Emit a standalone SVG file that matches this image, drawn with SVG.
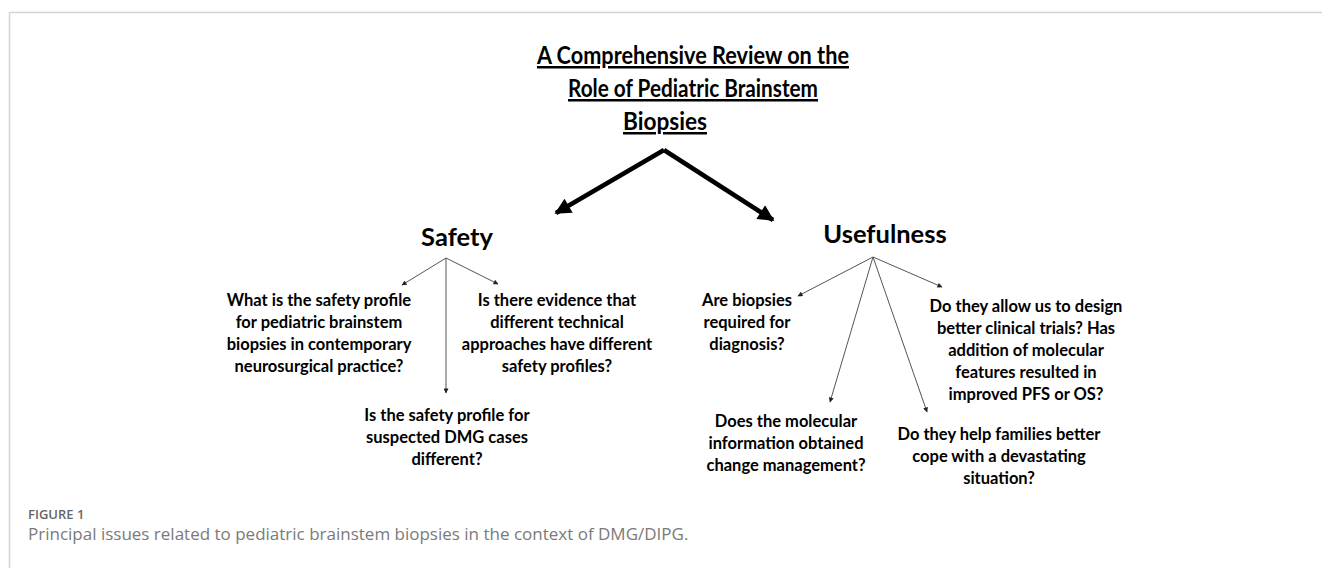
<svg xmlns="http://www.w3.org/2000/svg" width="1322" height="568" viewBox="0 0 1322 568">
  <style>
    .title { font-family: Lato, "Liberation Sans", sans-serif; font-weight: 700; font-size: 25px; fill: #000; text-anchor: middle; text-decoration: underline; }
    .head { font-family: Lato, "Liberation Sans", sans-serif; font-weight: 700; font-size: 25.5px; fill: #000; text-anchor: middle; }
    .q { font-family: Lato, "Liberation Sans", sans-serif; font-weight: 700; font-size: 16.5px; fill: #000; text-anchor: middle; }
    .main { stroke: #000; stroke-width: 4.5; fill: none; }
    .thin { stroke: #555; stroke-width: 1; fill: none; }
    .frame { stroke: #d4d4d4; stroke-width: 1.5; fill: none; }
    .figno { font-family: "Open Sans", "Liberation Sans", sans-serif; font-weight: 600; font-size: 13px; fill: #666; }
    .caption { font-family: "Open Sans", "Liberation Sans", sans-serif; font-size: 17px; fill: #7a7a7a; }
  </style>
  <defs>
    <marker id="bigHead" viewBox="0 0 10 10" refX="9" refY="5" markerWidth="4.4" markerHeight="3.6" orient="auto" markerUnits="strokeWidth">
      <path d="M0,0 L10,5 L0,10 Z" fill="#000"/>
    </marker>
    <marker id="smallHead" viewBox="0 0 10 10" refX="9" refY="5" markerWidth="6" markerHeight="5" orient="auto" markerUnits="strokeWidth">
      <path d="M0,0 L10,5 L0,10 Z" fill="#222"/>
    </marker>
  </defs>

  <!-- figure frame -->
  <path class="frame" d="M9.5,568 L9.5,12.5 L1322,12.5"/>

  <g id="title">
    <text class="title" x="693" y="64" textLength="312" lengthAdjust="spacingAndGlyphs">A Comprehensive Review on the</text>
    <text class="title" x="693" y="97" textLength="250" lengthAdjust="spacingAndGlyphs">Role of Pediatric Brainstem</text>
    <text class="title" x="665" y="130" textLength="84" lengthAdjust="spacingAndGlyphs">Biopsies</text>
  </g>

  <g id="safety">
    <text class="head" x="457" y="246">Safety</text>
  </g>
  <g id="usefulness">
    <text class="head" x="885" y="243">Usefulness</text>
  </g>

  <g id="connectors">
    <line class="main" x1="664" y1="150" x2="556" y2="213" marker-end="url(#bigHead)"/>
    <line class="main" x1="664" y1="150" x2="773" y2="220" marker-end="url(#bigHead)"/>

    <line class="thin" x1="446" y1="258" x2="402" y2="285" marker-end="url(#smallHead)"/>
    <line class="thin" x1="446" y1="258" x2="446" y2="393" marker-end="url(#smallHead)"/>
    <line class="thin" x1="446" y1="258" x2="498" y2="284" marker-end="url(#smallHead)"/>

    <line class="thin" x1="873" y1="257" x2="798" y2="296" marker-end="url(#smallHead)"/>
    <line class="thin" x1="873" y1="257" x2="830" y2="402" marker-end="url(#smallHead)"/>
    <line class="thin" x1="873" y1="257" x2="927" y2="412" marker-end="url(#smallHead)"/>
    <line class="thin" x1="873" y1="257" x2="942" y2="287" marker-end="url(#smallHead)"/>
  </g>

  <g id="q-safety-profile">
    <text class="q" x="319" y="306">What is the safety profile</text>
    <text class="q" x="319" y="328">for pediatric brainstem</text>
    <text class="q" x="319" y="350">biopsies in contemporary</text>
    <text class="q" x="319" y="372">neurosurgical practice?</text>
  </g>
  <g id="q-technical">
    <text class="q" x="557" y="306">Is there evidence that</text>
    <text class="q" x="557" y="328">different technical</text>
    <text class="q" x="557" y="350">approaches have different</text>
    <text class="q" x="557" y="372">safety profiles?</text>
  </g>
  <g id="q-dmg">
    <text class="q" x="447" y="421">Is the safety profile for</text>
    <text class="q" x="447" y="443">suspected DMG cases</text>
    <text class="q" x="447" y="465">different?</text>
  </g>

  <g id="q-diagnosis">
    <text class="q" x="747" y="306">Are biopsies</text>
    <text class="q" x="747" y="328">required for</text>
    <text class="q" x="747" y="350">diagnosis?</text>
  </g>
  <g id="q-management">
    <text class="q" x="786" y="427">Does the molecular</text>
    <text class="q" x="786" y="449">information obtained</text>
    <text class="q" x="786" y="471">change management?</text>
  </g>
  <g id="q-families">
    <text class="q" x="999" y="440">Do they help families better</text>
    <text class="q" x="999" y="462">cope with a devastating</text>
    <text class="q" x="999" y="484">situation?</text>
  </g>
  <g id="q-trials">
    <text class="q" x="1026" y="312">Do they allow us to design</text>
    <text class="q" x="1026" y="334">better clinical trials? Has</text>
    <text class="q" x="1026" y="356">addition of molecular</text>
    <text class="q" x="1026" y="378">features resulted in</text>
    <text class="q" x="1026" y="400">improved PFS or OS?</text>
  </g>

  <g id="caption">
    <text class="figno" x="28" y="519">FIGURE 1</text>
    <text class="caption" x="28" y="540">Principal issues related to pediatric brainstem biopsies in the context of DMG/DIPG.</text>
  </g>
</svg>
